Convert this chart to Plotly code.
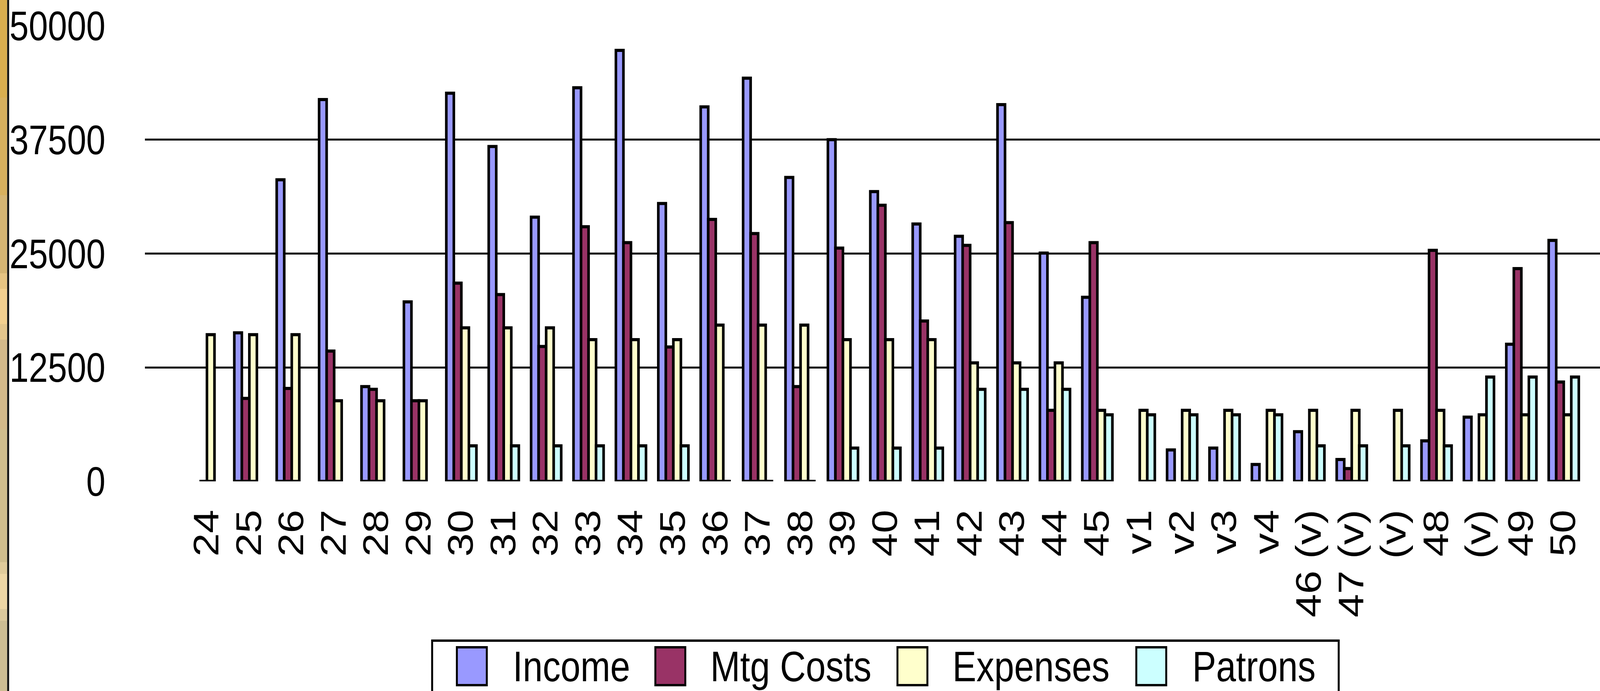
import plotly.graph_objects as go

# ---------------- data ----------------
categories = ["24", "25", "26", "27", "28", "29", "30", "31", "32", "33", "34",
              "35", "36", "37", "38", "39", "40", "41", "42", "43", "44", "45",
              "v1", "v2", "v3", "v4", "46 (v)", "47 (v)", "(v)", "48", "(v)",
              "49", "50"]
income = [None, 16300, 33100, 41900, 10400, 19700, 42600, 36750, 29000, 43200,
          47300, 30500, 41100, 44250, 33350, 37500, 31800, 28250, 26900, 41350,
          25050, 20200, None, 3450, 3650, 1850, 5450, 2400, None, 4450, 7050,
          15050, 26450]
mtg_costs = [0, 9100, 10200, 14300, 10100, 8850, 21750, 20500, 14800, 27950,
             26200, 14750, 28750, 27200, 10400, 25600, 30300, 17600, 25900,
             28400, 7800, 26200, None, None, None, None, None, 1400, None,
             25350, None, 23350, 10900]
expenses = [16100, 16100, 16100, 8850, 8850, 8850, 16850, 16850, 16850, 15550,
            15550, 15550, 17150, 17150, 17150, 15550, 15550, 15550, 13000,
            13000, 13000, 7800, 7800, 7800, 7800, 7800, 7800, 7800, 7800, 7800,
            7300, 7300, 7300]
patrons = [None, None, None, None, None, None, 3900, 3900, 3900, 3900, 3900,
           3900, 0, 0, 0, 3650, 3650, 3650, 10100, 10100, 10100, 7300, 7300,
           7300, 7300, 7300, 3900, 3900, 3900, 3900, 11450, 11450, 11450]

series_names = ["Income", "Mtg Costs", "Expenses", "Patrons"]
series_values = [income, mtg_costs, expenses, patrons]
series_colors = ["#9999FF", "#993366", "#FFFFCC", "#CCFFFF"]

y_tick_values = [0, 12500, 25000, 37500, 50000]
y_tick_labels = ["0", "12500", "25000", "37500", "50000"]
grid_values = [12500, 25000, 37500]

# ---------------- geometry ----------------
W, H = 4917, 1770
L, R, T, B = 445, 4917, 66, 1233          # plot area in pixels


def px_x(px):
    return (px - L) / (R - L)


def px_y(py):
    return (B - py) / (B - T)


FONT = "Liberation Sans, Arial, sans-serif"

fig = go.Figure()
xpos = list(range(len(categories)))
for name, vals, col in zip(series_names, series_values, series_colors):
    fig.add_trace(go.Bar(
        x=xpos, y=vals, name=name, showlegend=False,
        marker=dict(color=col, line=dict(color="black", width=8)),
    ))

fig.update_layout(
    template="none",
    width=W, height=H,
    margin=dict(l=L, r=W - R, t=T, b=H - B, pad=0, autoexpand=False),
    barmode="group", bargap=0.29, bargroupgap=0,
    paper_bgcolor="white", plot_bgcolor="white",
    font=dict(family=FONT, size=108, color="black"),
    showlegend=False,
)

fig.update_xaxes(
    range=[-1.466, 32.855],
    tickmode="array", tickvals=xpos, ticktext=categories,
    tickangle=-90, tickfont=dict(family=FONT, size=108, color="black"),
    showgrid=False, zeroline=False, showline=False, ticks="",
    ticklabelstandoff=50, automargin=False,
)
fig.update_yaxes(
    range=[0, 50000],
    tickmode="array", tickvals=y_tick_values, ticktext=y_tick_labels,
    tickfont=dict(family=FONT, size=106, color="black"),
    showgrid=False, zeroline=False, showline=False, ticks="",
    ticklabelstandoff=120, automargin=False,
    minor=dict(tickmode="array", tickvals=grid_values, showgrid=True,
               gridcolor="black", gridwidth=5, ticks=""),
)

shapes = []
# left decorative strip (slide background peeking through)
strip_bands = [
    (0, 250, "#D9AE4F"), (250, 500, "#D7B05E"), (500, 700, "#D5B573"),
    (700, 740, "#E6C482"), (740, 830, "#F3D08F"), (830, 870, "#E4C68C"),
    (870, 1100, "#D3B98A"), (1100, 1440, "#CFBD8D"), (1440, 1470, "#DFCA9A"),
    (1470, 1560, "#EDD6A5"), (1560, 1590, "#DCC99C"), (1590, 1770, "#CDBD93"),
]
for y0, y1, c in strip_bands:
    shapes.append(dict(type="rect", xref="paper", yref="paper",
                       x0=px_x(0), x1=px_x(22), y0=px_y(y1), y1=px_y(y0),
                       fillcolor=c, line=dict(width=0), layer="below"))
shapes.append(dict(type="line", xref="paper", yref="paper",
                   x0=px_x(25), x1=px_x(25), y0=px_y(1770), y1=px_y(0),
                   line=dict(color="#111111", width=6)))

# legend box (drawn manually to match swatch size)
shapes.append(dict(type="rect", xref="paper", yref="paper",
                   x0=px_x(1328), x1=px_x(4114), y0=px_y(1820), y1=px_y(1641),
                   fillcolor="white", line=dict(color="black", width=6)))
swatch_left = [1404, 2014, 2758, 3492]
text_left = [1574, 2181, 2925, 3662]
annotations = []
for sx, tx, name, col in zip(swatch_left, text_left, series_names, series_colors):
    shapes.append(dict(type="rect", xref="paper", yref="paper",
                       x0=px_x(sx), x1=px_x(sx + 92), y0=px_y(1755), y1=px_y(1658),
                       fillcolor=col, line=dict(color="black", width=6)))
    annotations.append(dict(xref="paper", yref="paper", x=px_x(tx), y=px_y(1706),
                            xanchor="left", yanchor="middle", showarrow=False,
                            text=name, font=dict(family=FONT, size=110, color="black")))

fig.update_layout(shapes=shapes, annotations=annotations)

# The browser viewport may be narrower than the requested 4917 px; squeeze the
# figure horizontally so the whole chart stays in view (no-op at full width).
fit_script = """
document.body.style.margin = '0';
document.body.style.overflow = 'hidden';
var gd = document.getElementById('{plot_id}');
var s = Math.min(1, window.innerWidth / %d);
gd.style.transformOrigin = '0 0';
gd.style.transform = 'scaleX(' + s + ')';
""" % W
fig.write_html("out.html", post_script=fit_script,
               config={"displayModeBar": False})
